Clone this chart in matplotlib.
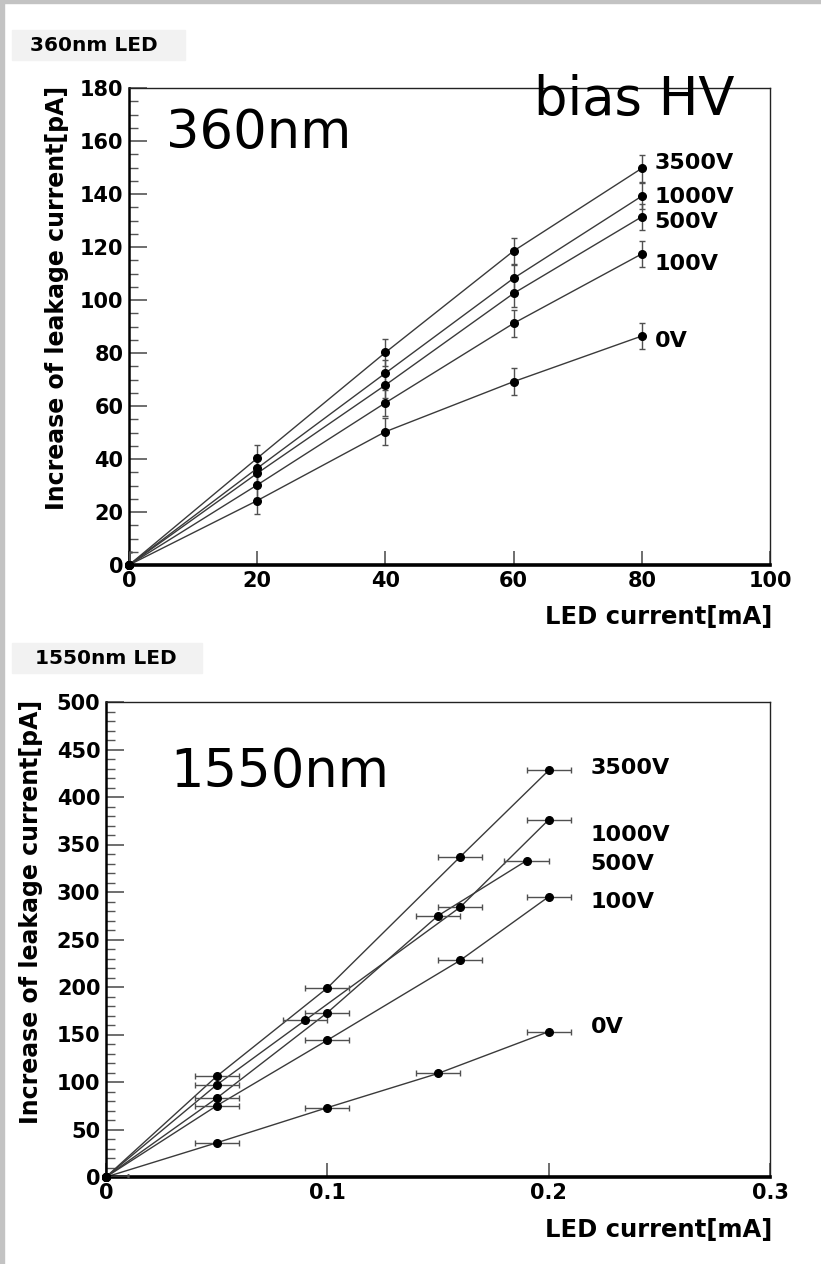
import matplotlib
matplotlib.use("Agg")
import matplotlib.pyplot as plt
from matplotlib.patches import Rectangle
from matplotlib.ticker import MultipleLocator, FixedLocator, FixedFormatter

# ---------------- data: 360nm LED ----------------
led_current_360 = [0, 20, 40, 60, 80]
series_360 = {
    "3500V": [0, 40.3, 80.2, 118.5, 149.7],
    "1000V": [0, 36.5, 72.4, 108.2, 139.2],
    "500V":  [0, 34.6, 67.9, 102.5, 131.4],
    "100V":  [0, 30.2, 61.2, 91.2, 117.4],
    "0V":    [0, 24.3, 50.3, 69.2, 86.4],
}
yerr_360 = 5.0
label_y_360 = {"3500V": 151.7, "1000V": 138.9, "500V": 129.4, "100V": 113.6, "0V": 84.5}
label_x_360 = 82.0

# ---------------- data: 1550nm LED ----------------
series_1550_x = {
    "3500V": [0, 0.05, 0.10, 0.16, 0.20],
    "1000V": [0, 0.05, 0.09, 0.16, 0.20],
    "500V":  [0, 0.05, 0.10, 0.15, 0.19],
    "100V":  [0, 0.05, 0.10, 0.16, 0.20],
    "0V":    [0, 0.05, 0.10, 0.15, 0.20],
}
series_1550_y = {
    "3500V": [0, 106, 199, 337, 428],
    "1000V": [0, 97, 165, 284, 376],
    "500V":  [0, 83, 173, 275, 333],
    "100V":  [0, 75, 144, 228, 295],
    "0V":    [0, 36, 73, 109, 153],
}
xerr_1550 = 0.01
label_y_1550 = {"3500V": 430, "1000V": 360, "500V": 330, "100V": 289, "0V": 158}
label_x_1550 = 0.219

xticks_360 = [0, 20, 40, 60, 80, 100]
xticklabels_360 = ["0", "20", "40", "60", "80", "100"]
yticks_360 = [0, 20, 40, 60, 80, 100, 120, 140, 160, 180]
xticks_1550 = [0, 0.1, 0.2, 0.3]
xticklabels_1550 = ["0", "0.1", "0.2", "0.3"]
yticks_1550 = [0, 50, 100, 150, 200, 250, 300, 350, 400, 450, 500]

W, H = 821, 1264
fig = plt.figure(figsize=(W / 100, H / 100), dpi=100)
fig.patch.set_facecolor("white")

def fx(px):
    return px / W

def fy(py):
    return 1 - py / H

# gray frame (top and left)
fig.patches.append(Rectangle((0, fy(3)), 1, 3 / H, transform=fig.transFigure,
                             color="#c3c3c3", zorder=0))
fig.patches.append(Rectangle((0, 0), 4 / W, 1, transform=fig.transFigure,
                             color="#c3c3c3", zorder=0))

BOLD = dict(family="DejaVu Sans", weight="bold")
line_col = "#3a3a3a"
err_col = "#505050"

def style_axes(ax):
    for s in ["top", "right"]:
        ax.spines[s].set_linewidth(1.0)
        ax.spines[s].set_color("#222222")
    ax.spines["left"].set_linewidth(1.8)
    ax.spines["bottom"].set_linewidth(2.6)
    ax.spines["left"].set_color("black")
    ax.spines["bottom"].set_color("black")
    ax.tick_params(axis="y", which="major", direction="in", length=13, width=1.2,
                   color="#555555", pad=4, labelsize=15)
    ax.tick_params(axis="y", which="minor", direction="in", length=6.5, width=1.0,
                   color="#555555")
    ax.tick_params(axis="x", which="major", direction="in", length=10, width=1.2,
                   color="#555555", pad=4, labelsize=15)
    ax.tick_params(axis="x", which="minor", length=0)
    ax.tick_params(top=False, right=False)
    for lab in ax.get_xticklabels() + ax.get_yticklabels():
        lab.set_fontweight("bold")
        lab.set_family("DejaVu Sans")

# ---------------- panel 1 ----------------
ax1 = fig.add_axes([fx(129), fy(565), fx(770) - fx(129), fy(88) - fy(565)])
for name, ys in series_360.items():
    ax1.errorbar(led_current_360, ys, yerr=yerr_360, fmt="none",
                 ecolor=err_col, elinewidth=1.0, capsize=2.5, capthick=1.0,
                 zorder=3)
    ax1.plot(led_current_360, ys, "-", color=line_col, lw=1.0, zorder=2)
    ax1.plot(led_current_360, ys, "o", color="black", ms=5.5, zorder=4, clip_on=False)
    ax1.text(label_x_360, label_y_360[name], name, ha="left", va="center",
             fontsize=16, **BOLD)
ax1.set_xlim(0, 100)
ax1.set_ylim(0, 180)
ax1.xaxis.set_major_locator(FixedLocator(xticks_360))
ax1.xaxis.set_major_formatter(FixedFormatter(xticklabels_360))
ax1.yaxis.set_major_locator(FixedLocator(yticks_360))
ax1.yaxis.set_minor_locator(MultipleLocator(5))
style_axes(ax1)

# ---------------- panel 2 ----------------
ax2 = fig.add_axes([fx(106), fy(1177), fx(770) - fx(106), fy(702) - fy(1177)])
for name in series_1550_x:
    xs = series_1550_x[name]
    ys = series_1550_y[name]
    ax2.errorbar(xs, ys, xerr=xerr_1550, fmt="none",
                 ecolor=err_col, elinewidth=1.0, capsize=2.5, capthick=1.0,
                 zorder=3)
    ax2.plot(xs, ys, "-", color=line_col, lw=1.0, zorder=2)
    ax2.plot(xs, ys, "o", color="black", ms=5.5, zorder=4, clip_on=False)
    ax2.text(label_x_1550, label_y_1550[name], name, ha="left", va="center",
             fontsize=16, **BOLD)
ax2.set_xlim(0, 0.3)
ax2.set_ylim(0, 500)
ax2.xaxis.set_major_locator(FixedLocator(xticks_1550))
ax2.xaxis.set_major_formatter(FixedFormatter(xticklabels_1550))
ax2.yaxis.set_major_locator(FixedLocator(yticks_1550))
ax2.yaxis.set_minor_locator(MultipleLocator(10))
style_axes(ax2)

# ---------------- axis labels ----------------
fig.text(fx(772), fy(624), "LED current[mA]", ha="right", va="baseline",
         fontsize=17.5, **BOLD)
fig.text(fx(772), fy(1237), "LED current[mA]", ha="right", va="baseline",
         fontsize=17.5, **BOLD)
fig.text(fx(57.5), fy(86), "Increase of leakage current[pA]", rotation=90,
         ha="center", va="top", fontsize=17, **BOLD)
fig.text(fx(31.5), fy(700), "Increase of leakage current[pA]", rotation=90,
         ha="center", va="top", fontsize=17, **BOLD)

# ---------------- title boxes ----------------
fig.patches.append(Rectangle((fx(12), fy(60)), 173 / W, 30 / H,
                             transform=fig.transFigure, color="#f2f2f2", zorder=0))
fig.text(fx(30), fy(45.5), "360nm LED", ha="left", va="center", fontsize=14.5, **BOLD)
fig.patches.append(Rectangle((fx(12), fy(673)), 190 / W, 30 / H,
                             transform=fig.transFigure, color="#f2f2f2", zorder=0))
fig.text(fx(35), fy(659), "1550nm LED", ha="left", va="center", fontsize=14.5, **BOLD)

# ---------------- overlay annotations ----------------
fig.text(fx(166), fy(148), "360nm", ha="left", va="baseline", fontsize=38,
         family="DejaVu Sans")
fig.text(fx(534), fy(115), "bias HV", ha="left", va="baseline", fontsize=38,
         family="DejaVu Sans", zorder=10)
fig.text(fx(170), fy(787), "1550nm", ha="left", va="baseline", fontsize=38,
         family="DejaVu Sans")

fig.savefig("out.png", dpi=100)
